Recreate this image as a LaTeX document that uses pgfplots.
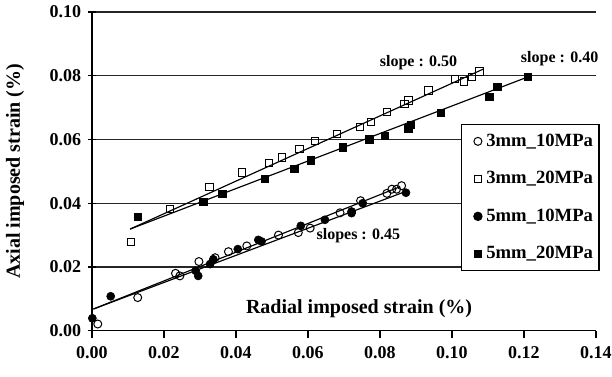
\documentclass[border=0pt]{standalone}
\usepackage{fontspec}
\setmainfont{Liberation Serif}
\usepackage{pgfplots}
\pgfplotsset{compat=1.18}
\usetikzlibrary{calc}

\begin{document}
\begin{tikzpicture}
\begin{axis}[
  name=ax,
  scale only axis,
  width=302.4pt, height=191.2pt,
  xmin=0, xmax=0.14, ymin=0, ymax=0.10,
  clip=false,
  axis x line=bottom, axis y line=left,
  axis line style={-, line width=0.8pt, black},
  xtick={0,0.02,...,0.14},
  ytick={0,0.02,...,0.10},
  ymajorgrids,
  major grid style={line width=0.8pt, black!85},
  xtick align=outside, ytick align=center,
  major tick length=4.5pt,
  every tick/.style={line width=0.8pt, black},
  /pgf/number format/.cd, fixed, fixed zerofill, precision=2, assume math mode=true,
  /pgfplots/.cd,
  scaled ticks=false,
  tick label style={font=\bfseries\fontsize{10.8}{12}\selectfont},
  xticklabel style={anchor=north, inner sep=0pt, yshift=-5pt},
  yticklabel style={anchor=east, inner sep=0pt, xshift=-4pt},
  xlabel={Radial imposed strain (\%)},
  xlabel style={at={(rel axis cs:0.53,0.068)}, anchor=center, font=\bfseries\fontsize{12}{14}\selectfont},
  ylabel={Axial imposed strain (\%)},
  ylabel style={at={(rel axis cs:-0.1528,0.5)}, anchor=center, font=\bfseries\fontsize{12}{14}\selectfont},
  legend cell align=left,
  legend style={at={(rel axis cs:0.732,0.6486)}, anchor=north west,
    draw=black, line width=0.8pt, fill=white,
    font=\bfseries\fontsize{11.2}{13}\selectfont,
    inner xsep=2.6pt, inner ysep=4pt, row sep=10.5pt, column sep=1.6pt,
    nodes={inner sep=1pt, text height=8pt, text depth=2pt}},
  lm/.style={only marks, legend image code/.code={\path (0pt,0pt); \draw[##1] plot coordinates {(6.8pt,0pt)};}},
]
% trend lines
\addplot[black, line width=0.7pt, forget plot] coordinates {(0.0106,0.0319) (0.1087,0.0821)};
\addplot[black, line width=0.7pt, forget plot] coordinates {(0.0106,0.0319) (0.1210,0.0796)};
\addplot[black, line width=0.7pt, forget plot] coordinates {(0.0004,0.0068) (0.0856,0.0452)};
\addplot[black, line width=0.7pt, forget plot] coordinates {(0.0004,0.0068) (0.0869,0.0436)};

% 3mm_10MPa
\addplot[lm, mark=o, mark size=2.4pt, mark options={fill=white, line width=0.6pt, black}] coordinates {
(0.0016,0.0021) (0.0127,0.0104) (0.0232,0.0180) (0.0244,0.0172) (0.0297,0.0217)
(0.0342,0.0229) (0.0379,0.0248) (0.0430,0.0266) (0.0518,0.0300) (0.0573,0.0308)
(0.0606,0.0322) (0.0689,0.0370) (0.0746,0.0408) (0.0819,0.0431) (0.0833,0.0444)
(0.0846,0.0444) (0.0860,0.0455)
};
\addlegendentry{3mm\_10MPa}
% 3mm_20MPa
\addplot[lm, mark=square, mark size=2.2pt, mark options={fill=white, line width=0.6pt, black}] coordinates {
(0.0108,0.0279) (0.0217,0.0381) (0.0326,0.0450) (0.0416,0.0496) (0.0492,0.0526)
(0.0527,0.0544) (0.0576,0.0570) (0.0619,0.0596) (0.0680,0.0617) (0.0744,0.0639)
(0.0775,0.0655) (0.0819,0.0686) (0.0868,0.0712) (0.0879,0.0722) (0.0935,0.0754)
(0.1008,0.0789) (0.1033,0.0782) (0.1055,0.0797) (0.1076,0.0813)
};
\addlegendentry{3mm\_20MPa}
% 5mm_10MPa
\addplot[lm, mark=*, mark size=2.4pt, mark options={fill=black, black}] coordinates {
(0.0001,0.0039) (0.0052,0.0108) (0.0288,0.0188) (0.0295,0.0172) (0.0328,0.0209)
(0.0337,0.0224) (0.0405,0.0256) (0.0462,0.0285) (0.0471,0.0280) (0.0580,0.0329)
(0.0647,0.0348) (0.0721,0.0374) (0.0721,0.0369) (0.0752,0.0400) (0.0872,0.0433)
};
\addlegendentry{5mm\_10MPa}
% 5mm_20MPa
\addplot[lm, mark=square*, mark size=2.2pt, mark options={fill=black, black}] coordinates {
(0.0127,0.0358) (0.0309,0.0405) (0.0362,0.0429) (0.0481,0.0476) (0.0562,0.0507)
(0.0608,0.0535) (0.0696,0.0575) (0.0770,0.0601) (0.0814,0.0611) (0.0879,0.0635)
(0.0885,0.0646) (0.0969,0.0684) (0.1104,0.0733) (0.1126,0.0766) (0.1210,0.0796)
};
\addlegendentry{5mm\_20MPa}

\node[font=\bfseries\fontsize{9.6}{11}\selectfont] at (axis cs:0.0907,0.0840) {slope : 0.50};
\node[font=\bfseries\fontsize{9.6}{11}\selectfont] at (axis cs:0.1299,0.0855) {slope : 0.40};
\node[font=\bfseries\fontsize{9.6}{11}\selectfont] at (axis cs:0.0740,0.0297) {slopes : 0.45};
\end{axis}
\pgfresetboundingbox
\path ($(ax.south west)+(-55.2pt,-27.18pt)$) rectangle ++(367.2pt,225.6pt);
\end{tikzpicture}
\end{document}
